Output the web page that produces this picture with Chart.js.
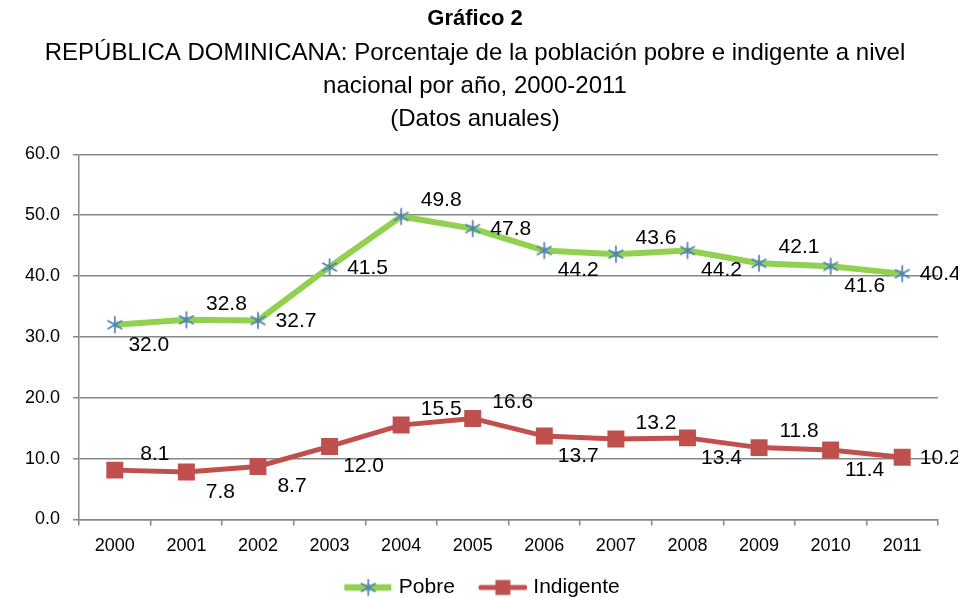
<!DOCTYPE html>
<html>
<head>
<meta charset="utf-8">
<script src="https://cdn.jsdelivr.net/npm/chart.js@4"></script>
<style>
  html, body { margin: 0; padding: 0; background: #fff; overflow: hidden; }
  #wrap { width: 958px; height: 608px; }
</style>
</head>
<body>
<div id="wrap"><canvas id="grafico"></canvas></div>
<script>
// datos
const anios = ['2000','2001','2002','2003','2004','2005','2006','2007','2008','2009','2010','2011'];
const pobre = [32.0, 32.8, 32.7, 41.5, 49.8, 47.8, 44.2, 43.6, 44.2, 42.1, 41.6, 40.4];
const indigente = [8.1, 7.8, 8.7, 12.0, 15.5, 16.6, 13.7, 13.2, 13.4, 11.8, 11.4, 10.2];
const ticksY = [0, 10, 20, 30, 40, 50, 60];

// ubicación de cada etiqueta: a = arriba, b = abajo, d = derecha
const posPobre = ['b','a','d','d','a','d','b','a','b','a','b','d'];
const posIndigente = ['a','b','b','b','a','a','b','a','b','a','b','d'];

const VERDE = '#92D050';
const AZUL = '#4F81BD';
const ROJO = '#C0504D';
const GRIS = '#868686';
const FUENTE = '"Liberation Sans", Arial, sans-serif';

// marcador asterisco (estilo Excel)
function asterisco(ctx, cx, cy, r) {
    ctx.strokeStyle = AZUL;
    ctx.lineWidth = 1.7;
    ctx.beginPath();
    ctx.moveTo(cx, cy - r); ctx.lineTo(cx, cy + r);
    ctx.moveTo(cx - r * 0.87, cy - r * 0.5); ctx.lineTo(cx + r * 0.87, cy + r * 0.5);
    ctx.moveTo(cx - r * 0.87, cy + r * 0.5); ctx.lineTo(cx + r * 0.87, cy - r * 0.5);
    ctx.stroke();
}

const markAst = document.createElement('canvas');
markAst.width = 20; markAst.height = 20;
asterisco(markAst.getContext('2d'), 10, 10, 8.5);

// icono de leyenda: margen transparente a la izquierda para separar los elementos
function iconoLeyenda(tipo) {
    const c = document.createElement('canvas');
    c.width = 66; c.height = 20;
    const g = c.getContext('2d');
    g.translate(17, 0);
    g.strokeStyle = tipo === 'p' ? VERDE : ROJO;
    g.lineWidth = tipo === 'p' ? 6.5 : 5;
    g.lineCap = tipo === 'p' ? 'butt' : 'round';
    g.beginPath(); g.moveTo(tipo === 'p' ? 1 : 3, 10); g.lineTo(tipo === 'p' ? 48 : 47, 10); g.stroke();
    if (tipo === 'p') {
        asterisco(g, 25, 10, 8.5);
    } else {
        g.fillStyle = ROJO;
        g.fillRect(17.5, 2.5, 15, 15);
    }
    return c;
}

// etiquetas de datos
const etiquetas = {
    id: 'etiquetas',
    afterDatasetsDraw(chart) {
        const ctx = chart.ctx;
        const offs = { a: [40, -16], b: [34, 20], d: [38, 1] };
        const posiciones = [posPobre, posIndigente];
        ctx.save();
        ctx.font = '21px ' + FUENTE;
        ctx.fillStyle = '#000';
        ctx.textAlign = 'center';
        ctx.textBaseline = 'middle';
        chart.data.datasets.forEach((ds, di) => {
            const meta = chart.getDatasetMeta(di);
            meta.data.forEach((pt, i) => {
                const o = offs[posiciones[di][i]];
                ctx.fillText(ds.data[i].toFixed(1), pt.x + o[0], pt.y + o[1]);
            });
        });
        ctx.restore();
    }
};

const ctx = document.getElementById('grafico').getContext('2d');
new Chart(ctx, {
    type: 'line',
    data: {
        labels: anios,
        datasets: [{
            label: 'Pobre',
            data: pobre,
            borderColor: VERDE,
            borderWidth: 6,
            tension: 0,
            pointStyle: markAst,
            pointRadius: 10,
            pointHoverRadius: 10
        }, {
            label: 'Indigente',
            data: indigente,
            borderColor: ROJO,
            backgroundColor: ROJO,
            borderWidth: 5,
            tension: 0,
            pointStyle: 'rect',
            pointRadius: 12,
            pointBorderWidth: 0,
            pointHoverRadius: 12
        }]
    },
    options: {
        responsive: true,
        maintainAspectRatio: false,
        animation: false,
        layout: { padding: { left: 12, right: 20, top: 6, bottom: 0 } },
        plugins: {
            title: {
                display: true,
                text: 'Gráfico 2',
                color: '#000',
                font: { family: FUENTE, size: 22, weight: 'bold', lineHeight: 1.2 },
                padding: { top: 0, bottom: 4 }
            },
            subtitle: {
                display: true,
                text: [
                    'REPÚBLICA DOMINICANA: Porcentaje de la población pobre e indigente a nivel',
                    'nacional por año, 2000-2011',
                    '(Datos anuales)'
                ],
                color: '#000',
                font: { family: FUENTE, size: 24, lineHeight: 1.375 },
                padding: { top: 0, bottom: 19 }
            },
            legend: {
                position: 'bottom',
                labels: {
                    usePointStyle: true,
                    pointStyleWidth: 58,
                    color: '#000',
                    padding: 10,
                    font: { family: FUENTE, size: 21 },
                    generateLabels: () => [
                        { text: 'Pobre', pointStyle: iconoLeyenda('p'), datasetIndex: 0, lineWidth: 0 },
                        { text: 'Indigente', pointStyle: iconoLeyenda('i'), datasetIndex: 1, lineWidth: 0 }
                    ]
                }
            },
            tooltip: { enabled: false }
        },
        scales: {
            x: {
                offset: true,
                grid: { offset: true, drawOnChartArea: false, color: GRIS, lineWidth: 1.5, tickLength: 6 },
                border: { color: GRIS, width: 1.5 },
                ticks: { color: '#000', padding: 10, font: { family: FUENTE, size: 18 } }
            },
            y: {
                min: 0,
                max: 60,
                afterBuildTicks: (axis) => { axis.ticks = ticksY.map(v => ({ value: v })); },
                grid: { color: GRIS, lineWidth: 1.5, tickLength: 6 },
                border: { color: GRIS, width: 1.5 },
                ticks: {
                    color: '#000',
                    padding: 13,
                    font: { family: FUENTE, size: 18 },
                    callback: (v) => Number(v).toFixed(1)
                }
            }
        }
    },
    plugins: [etiquetas]
});
</script>
</body>
</html>
